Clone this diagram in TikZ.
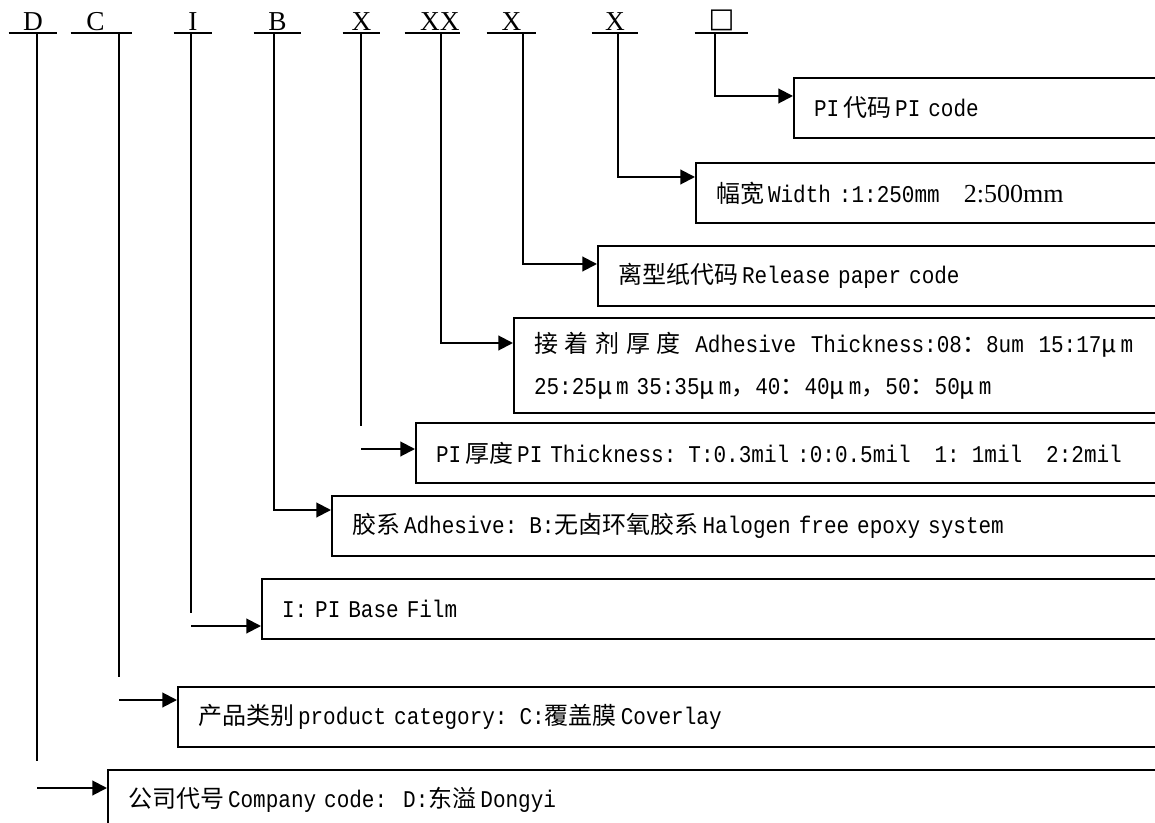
\documentclass[tikz,border=0pt]{standalone}
\usepackage{fontspec}
\setmainfont{Liberation Serif}
\newfontfamily\cjkfont{Noto Sans CJK SC}
\newfontfamily\codefont[FakeStretch=0.875]{Liberation Mono}
\newfontfamily\symfont{DejaVu Sans}
\newcommand\zh[1]{{\cjkfont #1}}
\usetikzlibrary{arrows.meta}

\begin{document}
\begin{tikzpicture}[x=0.75pt, y=-0.75pt,
  letter/.style={anchor=south, inner xsep=0pt, inner ysep=1.5pt, font=\fontsize{20.5}{22}\selectfont},
  bar/.style={line width=1.5pt},
  conn/.style={line width=1.5pt, -{Triangle[length=11pt,width=11pt]}},
  codebox/.style={draw, line width=1.5pt, anchor=north west, minimum height=45pt, inner xsep=15pt, align=left,
    font={\codefont\fontsize{18}{22}\selectfont}}]
\fill[white] (0,0) rectangle (1155,823);
\clip (0,0) rectangle (1155,823);

% code letters with their bars
\node[letter, minimum width=36pt] (d) at (33,33) {D};
\node[letter, minimum width=45.75pt] (c) at (101.5,33) {C\kern9pt};
\node[letter, minimum width=28.5pt] (i) at (193,33) {I};
\node[letter, minimum width=35.25pt] (b) at (277.5,33) {B};
\node[letter, minimum width=27.75pt] (xp) at (361.5,33) {X};
\node[letter, minimum width=41.25pt] (xxa) at (432.5,33) {\kern11pt XX};
\node[letter, minimum width=36.75pt] (xr) at (511.5,33) {X};
\node[letter, minimum width=34.5pt] (xw) at (615,33) {X};
\node[letter, minimum width=39.75pt] (sq) at (721.5,33) {\symfont □};
\foreach \n in {d,c,i,b,xp,xxa,xr,xw,sq}
  \draw[bar] (\n.south west) -- (\n.south east);

% description boxes
\node[codebox, text width=256.5pt] (picode) at (793,77) {PI\,\zh{代码}\,PI code};
\node[codebox, text width=330pt] (width) at (695,162) {\zh{幅宽}\,Width :1:250mm\ \ \ {\rmfamily\fontsize{19.5}{22}\selectfont 2:500mm}};
\node[codebox, text width=403.5pt] (release) at (597,245) {\zh{离型纸代码}\,Release paper code};
\node[codebox, text width=466.5pt, minimum height=71.25pt,
  font={\codefont\fontsize{18}{31.5}\selectfont}] (adhthick) at (513,317)
  {\zh{接\kern5pt 着\kern5pt 剂\kern5pt 厚\kern5pt 度}\ \kern5pt Adhesive\ \kern5pt Thickness:08\zh{：}8um\ \kern5pt 15:17\zh{μ}\,m\\
   25:25\zh{μ}\,m 35:35\zh{μ}\,m\zh{，}40\zh{：}40\zh{μ}\,m\zh{，}50\zh{：}50\zh{μ}\,m};
\node[codebox, text width=540pt] (pithick) at (415,422) {PI\,\zh{厚度}\,PI Thickness: T:0.3mil :0:0.5mil\ \ \ 1: 1mil\ \ \ 2:2mil};
\node[codebox, text width=603pt] (adhesive) at (331,495) {\zh{胶系}\,Adhesive: B:\zh{无卤环氧胶系}\,Halogen free epoxy system};
\node[codebox, text width=655.5pt] (basefilm) at (261,578) {I: PI Base Film};
\node[codebox, text width=718.5pt] (category) at (177,686) {\zh{产品类别}\,product category: C:\zh{覆盖膜}\,Coverlay};
\node[codebox, text width=771pt] (company) at (107,769) {\zh{公司代号}\,Company code:\ \ D:\zh{东溢}\,Dongyi};

% stem ends and arrow starts
\coordinate (xpend) at (361,426);
\coordinate (xpout) at (361,449);
\coordinate (iend) at (191,613);
\coordinate (iout) at (191,626);
\coordinate (cend) at (119,677);
\coordinate (cout) at (119,700);
\coordinate (dend) at (37,761);
\coordinate (dout) at (37,788);

% connectors
\draw[conn] (sq.south -| 715,0) |- (picode.west |- 0,96);
\draw[conn] (xw.south -| 618,0) |- (width.west |- 0,177);
\draw[conn] (xr.south -| 523,0) |- (release.west |- 0,264);
\draw[conn] (xxa.south -| 441,0) |- (adhthick.west |- 0,343);
\draw[conn] (b.south -| 274,0) |- (adhesive.west |- 0,510);
\draw[bar] (xp.south -| 361,0) -- (xpend);
\draw[conn] (xpout) -- (pithick.west |- xpout);
\draw[bar] (i.south -| 191,0) -- (iend);
\draw[conn] (iout) -- (basefilm.west |- iout);
\draw[bar] (c.south -| 119,0) -- (cend);
\draw[conn] (cout) -- (category.west |- cout);
\draw[bar] (d.south -| 37,0) -- (dend);
\draw[conn] (dout) -- (company.west |- dout);
\end{tikzpicture}
\end{document}
